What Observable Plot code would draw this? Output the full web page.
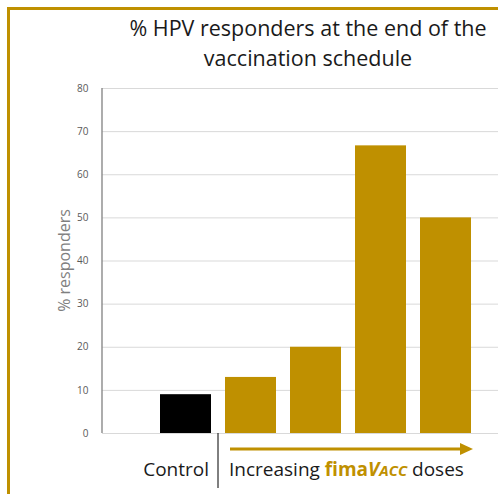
<!DOCTYPE html>
<html><head><meta charset="utf-8">
<script src="https://cdn.jsdelivr.net/npm/d3@7"></script>
<script src="https://cdn.jsdelivr.net/npm/@observablehq/plot@0.6"></script>
<style>
body{margin:0;background:#fff;}
#wrap{position:relative;width:498px;height:494px;overflow:hidden;font-family:"Open Sans",sans-serif;}
#frame{position:absolute;left:7px;top:7px;width:600px;height:600px;border-left:3px solid #bf9000;border-top:3px solid #bf9000;}
#chart{position:absolute;left:0;top:0;}
</style></head><body>
<div id="wrap"><div id="frame"></div><div id="chart"></div></div>
<script>
const groups = ["Control", "Dose 1", "Dose 2", "Dose 3", "Dose 4"];
const responders = [9, 13, 20, 66.7, 50];
const barColors = ["#000000", "#bf9000", "#bf9000", "#bf9000", "#bf9000"];
const yTicks = [0, 10, 20, 30, 40, 50, 60, 70, 80];
const titleLines = ["% HPV responders at the end of the", "vaccination schedule"];
const yLabel = "% responders";
const controlLabel = "Control";

const FONT = "'Open Sans', sans-serif";
const data = groups.map((g, i) => ({group: g, value: responders[i], color: barColors[i]}));

const chart = Plot.plot({
  width: 498, height: 494,
  marginTop: 88, marginBottom: 61, marginLeft: 102, marginRight: 0,
  style: {background: "transparent", fontFamily: FONT},
  x: {domain: groups, range: [158, 473], paddingInner: 0.21, paddingOuter: 0, axis: null},
  y: {domain: [0, 80], axis: null},
  color: {type: "identity"},
  marks: [
    Plot.gridY(yTicks, {stroke: "#d9d9d9", strokeOpacity: 1}),
    Plot.axisY(yTicks, {tickSize: 0, tickPadding: 14, fontSize: 10, fill: "#595959", label: null}),
    Plot.barY(data, {x: "group", y: "value", fill: "color"})
  ]
});
document.getElementById("chart").appendChild(chart);

const svg = d3.select(chart);
const xs = chart.scale("x"), ys = chart.scale("y");
const bw = xs.bandwidth;
const x0 = xs.apply(groups[0]), x1 = xs.apply(groups[1]), xl = xs.apply(groups[groups.length - 1]);
const yb = ys.apply(0), yt = ys.apply(80);

// axis line
svg.append("line").attr("x1", 102).attr("x2", 102).attr("y1", yt).attr("y2", yb)
  .attr("stroke", "#808080").attr("stroke-width", 1.3);

// title
svg.append("g").selectAll("text").data(titleLines).join("text")
  .attr("x", 308).attr("y", (d, i) => 36 + i * 30)
  .attr("text-anchor", "middle").attr("font-size", 21.5).attr("fill", "#1a1a1a")
  .attr("font-family", FONT).text(d => d);

// y label
svg.append("text").attr("transform", `translate(70,${(yt + yb) / 2}) rotate(-90)`)
  .attr("text-anchor", "middle").attr("font-size", 16).attr("fill", "#7f7f7f")
  .attr("font-family", FONT).text(yLabel);

// divider
const xd = (x0 + bw + x1) / 2;
svg.append("line").attr("x1", xd).attr("x2", xd).attr("y1", yb).attr("y2", yb + 55)
  .attr("stroke", "#000").attr("stroke-width", 1);

// arrow
const ay = yb + 16;
const ax1 = x1 + 5, ax2 = xl + bw + 2;
svg.append("line").attr("x1", ax1).attr("x2", ax2 - 10).attr("y1", ay).attr("y2", ay)
  .attr("stroke", "#bf9000").attr("stroke-width", 3);
svg.append("path").attr("d", `M${ax2},${ay} L${ax2 - 13},${ay - 6} L${ax2 - 13},${ay + 6} Z`).attr("fill", "#bf9000");

// bottom labels
svg.append("text").attr("x", xd - 9).attr("y", yb + 43).attr("text-anchor", "end")
  .attr("font-size", 19).attr("fill", "#1a1a1a").attr("font-family", FONT).text(controlLabel);
const t = svg.append("text").attr("x", xd + 11).attr("y", yb + 43).attr("text-anchor", "start")
  .attr("font-size", 19).attr("fill", "#1a1a1a").attr("font-family", FONT);
t.append("tspan").text("Increasing ");
t.append("tspan").attr("fill", "#bf9000").attr("font-weight", "bold").text("fima");
t.append("tspan").attr("fill", "#bf9000").attr("font-weight", "bold").attr("font-style", "italic").text("V");
t.append("tspan").attr("fill", "#bf9000").attr("font-weight", "bold").attr("font-style", "italic").attr("font-size", 15).text("ACC");
t.append("tspan").text(" doses");
</script>
</body></html>
